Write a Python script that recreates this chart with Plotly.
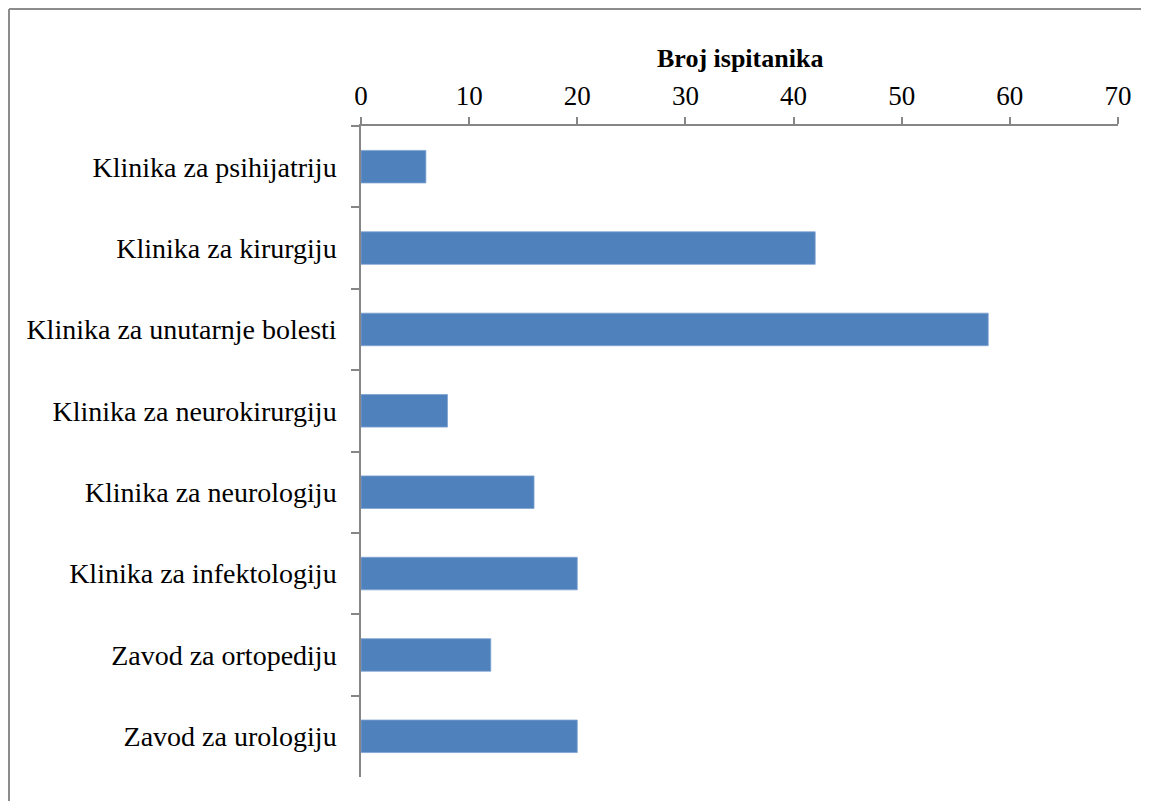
import plotly.graph_objects as go

categories = [
    "Klinika za psihijatriju",
    "Klinika za kirurgiju",
    "Klinika za unutarnje bolesti",
    "Klinika za neurokirurgiju",
    "Klinika za neurologiju",
    "Klinika za infektologiju",
    "Zavod za ortopediju",
    "Zavod za urologiju",
]
values = [6, 42, 58, 8, 16, 20, 12, 20]
x_ticks = [0, 10, 20, 30, 40, 50, 60, 70]
axis_title = "Broj ispitanika"

# page offset of 8px (body margin) compensated
OFF = 8
W, H = 1149 - OFF, 801 - OFF
L, R, T, B = 361 - OFF, 1118 - OFF, 126 - OFF, 777 - OFF

fig = go.Figure(go.Bar(
    x=values, y=categories, orientation="h",
    marker=dict(color="#4F81BD", line=dict(color="#7FA3D2", width=0.8)),
))

font_family = "Liberation Serif, Times New Roman, serif"
axis_col = "#868686"

fig.update_layout(
    width=W, height=H,
    margin=dict(l=L, r=W - R, t=T, b=H - B, pad=0),
    paper_bgcolor="white", plot_bgcolor="white",
    bargap=0.6, showlegend=False,
    font=dict(family=font_family, size=28, color="black"),
    xaxis=dict(
        side="top", range=[0, 70], tickvals=x_ticks, ticks="outside",
        ticklen=7, tickcolor=axis_col, tickwidth=1.5, showline=True,
        linecolor=axis_col, linewidth=1.5, showgrid=False, zeroline=False,
        ticklabelstandoff=1,
        tickfont=dict(size=27, family=font_family, color="black"),
    ),
    yaxis=dict(
        categoryorder="array", categoryarray=categories, autorange="reversed",
        ticks="outside", tickson="boundaries", ticklen=8, tickcolor=axis_col,
        tickwidth=1.5, showline=True, linecolor=axis_col, linewidth=1.5,
        showgrid=False, zeroline=False, ticklabelstandoff=17,
        tickfont=dict(size=28, family=font_family, color="black"),
    ),
)

fig.add_annotation(
    text="<b>" + axis_title + "</b>", xref="paper", yref="paper",
    x=0.5, y=(B - (59 - OFF)) / (B - T), xanchor="center", yanchor="middle",
    showarrow=False, font=dict(size=26, family=font_family, color="black"),
)

# outer border (left and top edges visible)
px = lambda v: (v - OFF - L) / (R - L)
py = lambda v: (B - (v - OFF)) / (B - T)
fig.add_shape(type="line", xref="paper", yref="paper",
              x0=px(9), x1=px(9), y0=py(9), y1=py(805),
              line=dict(color="#8C8C8C", width=2))
fig.add_shape(type="line", xref="paper", yref="paper",
              x0=px(9), x1=px(1155), y0=py(9), y1=py(9),
              line=dict(color="#8C8C8C", width=2))

fig.write_html("out.html")
